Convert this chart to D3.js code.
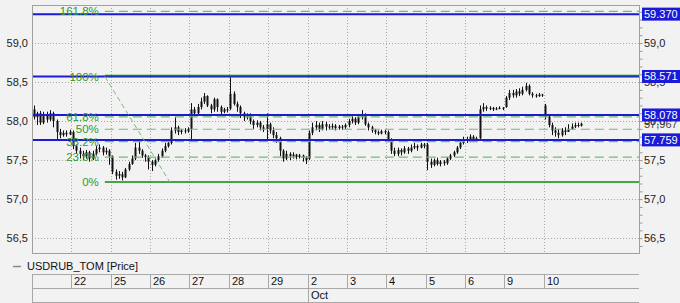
<!DOCTYPE html>
<html>
<head>
<meta charset="utf-8">
<script src="https://cdn.jsdelivr.net/npm/d3@7"></script>
<style>
  body { margin: 0; background: #f2f2f2; }
  svg { display: block; font-family: "Liberation Sans", Arial, sans-serif; }
</style>
</head>
<body>
<script>
// trading days shown on the time axis (first one is the partial day before 22)
var dayLabels = ["", "22", "25", "26", "27", "28", "29", "2", "3", "4", "5", "6", "9", "10"];
var monthLabels = ["", "Oct"];
var monthStartDay = [0, 7];
var barsPerDay = 12;

// intraday candles, 12 per day
var opens = [
  58.15,58.05,58.10,57.98,58.08,58.02,58.10,58.00,57.86,57.82,57.85,57.83,
  57.86,57.68,57.62,57.58,57.55,57.60,57.52,57.58,57.64,57.66,57.60,57.62,
  57.55,57.35,57.30,57.32,57.28,57.38,57.45,57.52,57.66,57.62,57.56,57.54,
  57.48,57.44,57.50,57.55,57.62,57.68,57.72,57.88,57.92,57.86,57.88,57.87,
  57.90,58.15,58.10,58.18,58.25,58.32,58.20,58.15,58.28,58.18,58.12,58.15,
  58.16,58.35,58.22,58.18,58.10,58.05,58.08,58.00,57.95,57.98,57.92,57.90,
  57.96,57.88,57.82,57.78,57.62,57.52,57.58,57.55,57.57,57.54,57.56,57.53,
  57.52,57.85,57.92,57.95,57.90,57.96,57.93,57.92,57.94,57.91,57.93,57.92,
  57.95,58.00,58.03,57.98,58.05,58.08,57.96,57.92,57.88,57.86,57.84,57.87,
  57.86,57.76,57.62,57.58,57.63,57.60,57.65,57.62,57.66,57.68,57.66,57.70,
  57.70,57.48,57.44,57.50,57.45,57.48,57.46,57.52,57.56,57.60,57.66,57.72,
  57.76,57.76,57.80,57.75,57.78,58.15,58.18,58.16,58.17,58.15,58.16,58.17,
  58.18,58.30,58.36,58.33,58.38,58.35,58.40,58.45,58.35,58.33,58.32,58.34,
  58.20,58.06,57.95,57.88,57.85,57.82,57.88,57.86,57.90,57.93,57.95,57.94
];
var highs = [
  58.20,58.12,58.13,58.12,58.12,58.14,58.12,58.02,57.90,57.88,57.88,57.89,
  57.88,57.70,57.66,57.62,57.63,57.62,57.62,57.68,57.70,57.68,57.66,57.64,
  57.56,57.38,57.36,57.35,57.40,57.48,57.56,57.72,57.74,57.64,57.58,57.56,
  57.50,57.53,57.58,57.65,57.72,57.76,57.92,58.05,57.94,57.90,57.91,57.92,
  58.23,58.18,58.22,58.30,58.36,58.33,58.22,58.30,58.29,58.20,58.17,58.18,
  58.56,58.38,58.25,58.20,58.12,58.10,58.10,58.02,58.01,58.00,57.95,58.10,
  57.98,57.92,57.86,57.80,57.64,57.62,57.60,57.60,57.58,57.58,57.57,57.55,
  57.88,57.98,58.00,57.98,58.00,57.99,57.96,57.97,57.96,57.95,57.95,57.97,
  58.03,58.06,58.05,58.08,58.14,58.10,57.98,57.94,57.90,57.88,57.89,57.89,
  57.88,57.78,57.66,57.66,57.65,57.68,57.67,57.70,57.72,57.70,57.72,57.72,
  57.72,57.52,57.52,57.53,57.50,57.50,57.54,57.58,57.62,57.68,57.75,57.80,
  57.80,57.83,57.82,57.80,58.20,58.23,58.20,58.19,58.18,58.18,58.19,58.18,
  58.32,58.40,58.40,58.41,58.42,58.44,58.49,58.47,58.37,58.35,58.36,58.35,
  58.22,58.08,57.98,57.92,57.90,57.91,57.92,57.96,57.97,57.98,57.98,57.98
];
var lows = [
  58.02,57.95,57.95,57.96,57.98,58.00,57.92,57.76,57.78,57.80,57.80,57.82,
  57.64,57.58,57.52,57.50,57.52,57.48,57.50,57.56,57.60,57.56,57.57,57.44,
  57.32,57.25,57.26,57.24,57.27,57.36,57.44,57.50,57.58,57.53,57.48,57.38,
  57.36,57.42,57.48,57.53,57.60,57.66,57.70,57.84,57.82,57.83,57.84,57.85,
  57.75,58.06,58.08,58.15,58.22,58.18,58.10,58.12,58.12,58.08,58.10,58.11,
  58.14,58.20,58.12,58.04,58.00,58.02,57.96,57.90,57.92,57.88,57.86,57.74,
  57.84,57.78,57.72,57.55,57.48,57.50,57.50,57.52,57.51,57.52,57.48,57.45,
  57.50,57.82,57.88,57.86,57.88,57.88,57.89,57.89,57.88,57.89,57.89,57.90,
  57.92,57.97,57.95,57.96,58.02,57.94,57.88,57.85,57.83,57.82,57.83,57.83,
  57.73,57.58,57.55,57.55,57.56,57.58,57.58,57.60,57.64,57.62,57.65,57.65,
  57.37,57.40,57.42,57.43,57.42,57.43,57.44,57.50,57.54,57.58,57.64,57.70,
  57.72,57.73,57.73,57.73,57.76,58.12,58.13,58.14,58.13,58.14,58.15,58.14,
  58.17,58.27,58.30,58.30,58.32,58.33,58.38,58.33,58.30,58.30,58.31,58.31,
  58.02,57.92,57.82,57.80,57.78,57.80,57.82,57.86,57.89,57.91,57.92,57.93
];
var closes = [
  58.05,58.10,57.98,58.08,58.02,58.10,58.00,57.86,57.82,57.85,57.83,57.86,
  57.68,57.62,57.58,57.55,57.60,57.52,57.58,57.64,57.66,57.60,57.62,57.55,
  57.35,57.30,57.32,57.28,57.38,57.45,57.52,57.66,57.62,57.56,57.54,57.48,
  57.44,57.50,57.55,57.62,57.68,57.72,57.88,57.92,57.86,57.88,57.87,57.90,
  58.15,58.10,58.18,58.25,58.32,58.20,58.15,58.28,58.18,58.12,58.15,58.14,
  58.35,58.22,58.18,58.10,58.05,58.08,58.00,57.95,57.98,57.92,57.90,57.96,
  57.88,57.82,57.78,57.62,57.52,57.58,57.55,57.57,57.54,57.56,57.53,57.50,
  57.85,57.92,57.95,57.90,57.96,57.93,57.92,57.94,57.91,57.93,57.92,57.95,
  58.00,58.03,57.98,58.05,58.08,57.96,57.92,57.88,57.86,57.84,57.87,57.86,
  57.76,57.62,57.58,57.63,57.60,57.65,57.62,57.66,57.68,57.66,57.70,57.68,
  57.48,57.44,57.50,57.45,57.48,57.46,57.52,57.56,57.60,57.66,57.72,57.76,
  57.76,57.80,57.75,57.78,58.15,58.18,58.16,58.17,58.15,58.16,58.17,58.16,
  58.30,58.36,58.33,58.38,58.35,58.40,58.45,58.35,58.33,58.32,58.34,58.33,
  58.06,57.95,57.88,57.85,57.82,57.88,57.86,57.90,57.93,57.95,57.94,57.967
];

// horizontal lines with their value boxes on the right axis
var levelLines = [59.370, 58.571, 58.078, 57.759];
var lastPrice = 57.967;

// Fibonacci retracement: from swing high (100%) down to swing low (0%)
var fibFromDay = 1.85, fibFromPrice = 58.571;
var fibToDay = 3.5, fibToPrice = 57.22;
var fibRatios = [1.618, 1, 0.618, 0.5, 0.382, 0.236, 0];
var fibNames = ["161.8%", "100%", "61.8%", "50%", "38.2%", "23.6%", "0%"];

var yTicks = [56.5, 57.0, 57.5, 58.0, 58.5, 59.0];

var W = 680, H = 303;
var plot = {left: 32, right: 639, top: 5, bottom: 253};
var totalDays = 15.42;

var x = d3.scaleLinear().domain([0, totalDays]).range([plot.left, plot.right]);
var y = d3.scaleLinear().domain([56.31, 59.487]).range([plot.bottom, plot.top]);
var comma = function(v, f) { return d3.format(f)(v).replace(".", ","); };

var svg = d3.select("body").append("svg")
    .attr("width", W).attr("height", H);

svg.append("rect").attr("width", W).attr("height", H).attr("fill", "#f2f2f2");

svg.append("clipPath").attr("id", "clip")
  .append("rect")
    .attr("x", plot.left).attr("y", plot.top)
    .attr("width", plot.right - plot.left).attr("height", plot.bottom - plot.top);

// grid
var grid = svg.append("g");
grid.selectAll(".hg").data(yTicks).enter().append("line")
    .attr("x1", plot.left).attr("x2", plot.right)
    .attr("y1", d => Math.round(y(d)) + 0.5).attr("y2", d => Math.round(y(d)) + 0.5)
    .attr("stroke", "#a8a8a8").attr("stroke-dasharray", "1,2");
grid.selectAll(".vg").data(d3.range(1, dayLabels.length)).enter().append("line")
    .attr("x1", d => Math.round(x(d)) + 0.5).attr("x2", d => Math.round(x(d)) + 0.5)
    .attr("y1", plot.top).attr("y2", plot.bottom)
    .attr("stroke", "#a8a8a8").attr("stroke-dasharray", "1,2");

var g = svg.append("g").attr("clip-path", "url(#clip)");

// candles
var candles = d3.range(closes.length).map(function(i) {
  var day = Math.floor(i / barsPerDay), k = i % barsPerDay;
  return {t: day + (k + 0.5) / barsPerDay, o: opens[i], h: highs[i], l: lows[i], c: closes[i]};
});
var cg = g.selectAll(".candle").data(candles).enter().append("g");
cg.append("line")
    .attr("x1", d => Math.round(x(d.t)) + 0.5).attr("x2", d => Math.round(x(d.t)) + 0.5)
    .attr("y1", d => y(d.h)).attr("y2", d => y(d.l))
    .attr("stroke", "#111").attr("stroke-width", 1);
cg.append("rect")
    .attr("x", d => Math.round(x(d.t)) - 0.5)
    .attr("y", d => y(Math.max(d.o, d.c)))
    .attr("width", 2)
    .attr("height", d => Math.max(1, Math.abs(y(d.o) - y(d.c))))
    .attr("fill", "#111");

// blue level lines
g.selectAll(".lvl").data(levelLines).enter().append("line")
    .attr("x1", plot.left).attr("x2", plot.right)
    .attr("y1", d => y(d)).attr("y2", d => y(d))
    .attr("stroke", "#1a1ad8").attr("stroke-width", 2);

// fibonacci levels
var fibLevels = fibRatios.map(function(r, i) {
  return {r: r, name: fibNames[i], v: fibToPrice + r * (fibFromPrice - fibToPrice)};
});
g.selectAll(".fib").data(fibLevels).enter().append("line")
    .attr("x1", x(fibFromDay)).attr("x2", plot.right)
    .attr("y1", d => y(d.v) - (d.r === 1 ? 1 : 0))
    .attr("y2", d => y(d.v) - (d.r === 1 ? 1 : 0))
    .attr("stroke", d => (d.r === 0 || d.r === 1) ? "#118811" : "#6cbf6c")
    .attr("stroke-width", d => (d.r === 0 || d.r === 1) ? 1.6 : 1.2)
    .attr("stroke-dasharray", d => (d.r === 0 || d.r === 1) ? null : "9,5");
g.append("line")
    .attr("x1", x(fibFromDay)).attr("y1", y(fibFromPrice))
    .attr("x2", x(fibToDay)).attr("y2", y(fibToPrice))
    .attr("stroke", "#74c074").attr("stroke-width", 1).attr("stroke-dasharray", "5,3");
svg.selectAll(".fibl").data(fibLevels).enter().append("text")
    .attr("x", x(fibFromDay) - 6).attr("y", d => y(d.v))
    .attr("dy", "0.36em").attr("text-anchor", "end")
    .attr("font-size", "11.5px").attr("fill", "#2f9a2f")
    .text(d => d.name);

// plot border
svg.append("rect")
    .attr("x", plot.left + 0.5).attr("y", plot.top + 0.5)
    .attr("width", plot.right - plot.left).attr("height", plot.bottom - plot.top)
    .attr("fill", "none").attr("stroke", "#a0a0a0");

// axes
svg.append("g")
    .attr("transform", "translate(" + (plot.right + 0.5) + ",0)")
    .call(d3.axisRight(y).tickValues(d3.range(56.4, 59.45, 0.1)).tickSize(3).tickFormat(""))
    .call(a => a.select(".domain").remove())
    .call(a => a.selectAll("line").attr("stroke", "#999"));
svg.selectAll(".ylab").data(yTicks).enter().append("text")
    .attr("x", 28).attr("y", d => y(d)).attr("dy", "0.36em")
    .attr("text-anchor", "end").attr("font-size", "11px").attr("fill", "#222")
    .text(d => comma(d, ".1f"));
svg.selectAll(".yrab").data(yTicks).enter().append("text")
    .attr("x", 644).attr("y", d => y(d)).attr("dy", "0.36em")
    .attr("font-size", "11px").attr("fill", "#222")
    .text(d => comma(d, ".1f"));

// last price label
svg.append("text")
    .attr("x", 644).attr("y", y(lastPrice)).attr("dy", "0.36em")
    .attr("font-size", "11px").attr("fill", "#444")
    .text(comma(lastPrice, ".3f"));

// level value boxes
var box = svg.selectAll(".lb").data(levelLines).enter().append("g")
    .attr("transform", d => "translate(642," + y(d) + ")");
box.append("rect").attr("x", 0).attr("y", -6.5).attr("width", 38).attr("height", 13)
    .attr("fill", "#1a1ad8");
box.append("text").attr("x", 2).attr("dy", "0.36em")
    .attr("font-size", "11px").attr("fill", "#fff")
    .text(d => d3.format(".3f")(d));

// legend
svg.append("line").attr("x1", 13).attr("x2", 21).attr("y1", 266.5).attr("y2", 266.5)
    .attr("stroke", "#888").attr("stroke-width", 1.5);
svg.append("text").attr("x", 27).attr("y", 266).attr("dy", "0.36em")
    .attr("font-size", "11px").attr("fill", "#111").text("USDRUB_TOM [Price]");

// date axis: two rows of cells
var row1 = 274.5, row2 = 288.5, row3 = 302.5;
var ax = svg.append("g").attr("stroke", "#a8a8a8");
[row1, row2, row3].forEach(function(ry) {
  ax.append("line").attr("x1", plot.left).attr("x2", plot.right).attr("y1", ry).attr("y2", ry);
});
ax.selectAll(".dc").data(d3.range(0, dayLabels.length)).enter().append("line")
    .attr("x1", d => d === 0 ? plot.left + 0.5 : Math.round(x(d)) + 0.5)
    .attr("x2", d => d === 0 ? plot.left + 0.5 : Math.round(x(d)) + 0.5)
    .attr("y1", row1).attr("y2", row2);
ax.selectAll(".mc").data(monthStartDay).enter().append("line")
    .attr("x1", d => d === 0 ? plot.left + 0.5 : Math.round(x(d)) + 0.5)
    .attr("x2", d => d === 0 ? plot.left + 0.5 : Math.round(x(d)) + 0.5)
    .attr("y1", row2).attr("y2", row3);
svg.selectAll(".dl").data(dayLabels).enter().append("text")
    .attr("x", (d, i) => Math.round(x(i)) + 3).attr("y", (row1 + row2) / 2).attr("dy", "0.36em")
    .attr("font-size", "11px").attr("fill", "#111").text(d => d);
svg.selectAll(".ml").data(monthLabels).enter().append("text")
    .attr("x", (d, i) => Math.round(x(monthStartDay[i])) + 3).attr("y", (row2 + row3) / 2).attr("dy", "0.36em")
    .attr("font-size", "11px").attr("fill", "#111").text(d => d);
</script>
</body>
</html>
